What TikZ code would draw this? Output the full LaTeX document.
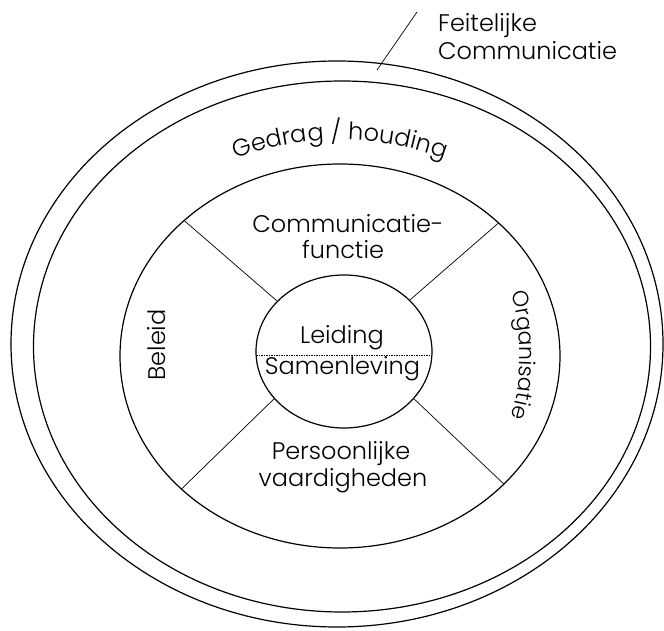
\documentclass[tikz,border=0pt]{standalone}
\usepackage{fontspec}
\setmainfont{Poppins}[UprightFont=* Light]
\usetikzlibrary{shapes.geometric,decorations.text}
\newcommand{\lblfont}{\fontsize{24}{28}\selectfont}
\newcommand{\orgfont}{\fontsize{22}{26}\selectfont}
\begin{document}
\begin{tikzpicture}[x=1pt,y=1pt,
  ring/.style={ellipse,draw,line width=1.2pt,inner sep=0pt,outer sep=0pt},
  lbl/.style={font=\lblfont,inner sep=0pt,anchor=base},
  divider/.style={line width=0.7pt},
  dashline/.style={line width=0.5pt,dash pattern=on 1.5pt off 1pt}]
\useasboundingbox (0,0) rectangle (664,630);
% rings
\node[ring,minimum width=652pt,minimum height=566pt] (outer) at (337,286) {};
\node[ring,minimum width=617pt,minimum height=531pt] (second) at (342,283.5) {};
\node[ring,minimum width=440pt,minimum height=384pt] (mid) at (340,274) {};
\node[ring,minimum width=176pt,minimum height=153pt] (inner) at (344,278.5) {};
% dividers
\draw[divider] (inner.143) -- (mid.139);
\draw[divider] (inner.38) -- (mid.40);
\draw[divider] (inner.214.5) -- (mid.220);
\draw[divider] (inner.-34.5) -- (mid.-38.7);
\draw[dashline] ([yshift=-3.5pt]inner.west) -- ([yshift=-3.5pt]inner.east);
% centre labels
\node[lbl] (leiding) at (342,286) {Leiding};
\node[lbl] (samen) at (342.5,255) {Samenleving};
\node[lbl] (comm1) at (348,397) {Communicatie-};
\node[lbl] (comm2) at (343,371) {functie};
\node[lbl] (pers1) at (341,171) {Persoonlijke};
\node[lbl] (pers2) at (343,144) {vaardigheden};
\node[font=\lblfont,inner sep=0pt,rotate=90] (beleid) at (157,285) {Beleid};
% curved labels
\path[decorate,decoration={text along path,text align=center,
   text format delimiters={|}{|},text={|\lblfont|Gedrag / houding}}]
   ([shift={(340,272)}]155:258 and 218) arc[start angle=155,end angle=25,x radius=258,y radius=218];
\path[decorate,decoration={text along path,text align=center,
   text format delimiters={|}{|},text={|\orgfont|Organisatie}}]
   ([shift={(340,275)}]25:180 and 200) arc[start angle=25,end angle=-25,x radius=180,y radius=200];
% outer label
\node[lbl,anchor=base west] (feit1) at (438,598) {Feitelijke};
\node[lbl,anchor=base west] (feit2) at (438,570) {Communicatie};
\coordinate (slashtop) at (417,618);
\coordinate (slashbot) at (377,560);
\draw[divider] (slashtop) -- (slashbot);
\end{tikzpicture}
\end{document}
